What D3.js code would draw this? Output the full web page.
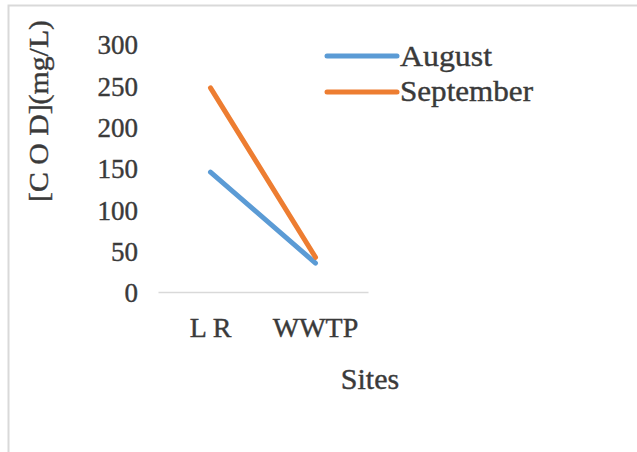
<!DOCTYPE html>
<html>
<head>
<meta charset="utf-8">
<script src="https://cdn.jsdelivr.net/npm/d3@7"></script>
<style>
  html, body { margin: 0; padding: 0; background: #fff; }
  svg { display: block; }
</style>
</head>
<body>
<svg id="chart" width="637" height="452"></svg>
<script>
const categories = ["L R", "WWTP"];
const seriesNames = ["August", "September"];
const august = [145, 35];
const september = [247, 42];
const yTicks = [0, 50, 100, 150, 200, 250, 300];
const colors = ["#5b9bd5", "#ed7d31"];

const FONT = "Liberation Serif";
const TXT = "#3a3a3a";
const svg = d3.select("#chart");

function styleText(sel, size) {
  sel.style("font-family", FONT)
     .style("font-size", size + "px")
     .style("fill", TXT)
     .style("stroke", TXT)
     .style("stroke-width", "0.4px");
}

// outer frame
svg.append("rect")
  .attr("x", 8.5).attr("y", 5.5)
  .attr("width", 700).attr("height", 500)
  .attr("fill", "none").attr("stroke", "#d9d9d9").attr("stroke-width", 2);

const x = d3.scaleBand().domain(categories).range([158, 368]);
const y = d3.scaleLinear().domain([0, 300]).range([292, 44]);

// category axis line
const xAxis = d3.axisBottom(x).tickSize(0).tickFormat("");
const gx = svg.append("g").attr("transform", `translate(0,${y(0)})`).call(xAxis);
gx.select(".domain").attr("stroke", "#d9d9d9").attr("stroke-width", 1.5);

// y tick labels
const yAxis = d3.axisLeft(y).tickValues(yTicks).tickSize(0).tickPadding(0);
const gy = svg.append("g").attr("transform", "translate(138,0)").call(yAxis);
gy.select(".domain").remove();
gy.selectAll("text").attr("dy", "0.36em").call(styleText, 27);

// category labels
svg.append("g").selectAll("text").data(categories).join("text")
  .attr("x", d => x(d) + x.bandwidth() / 2)
  .attr("y", 337)
  .attr("text-anchor", "middle")
  .text(d => d)
  .call(styleText, 28);

// x title
svg.append("text")
  .attr("x", 370).attr("y", 389)
  .attr("text-anchor", "middle")
  .text("Sites")
  .call(styleText, 30);

// y title
svg.append("text")
  .attr("transform", "translate(48,111) rotate(-90)")
  .attr("text-anchor", "middle")
  .attr("textLength", 182)
  .attr("lengthAdjust", "spacingAndGlyphs")
  .text("[C O D](mg/L)")
  .call(styleText, 28);

// lines
const series = [august, september];
const line = d3.line()
  .x((d, i) => x(categories[i]) + x.bandwidth() / 2)
  .y(d => y(d));

svg.append("g").selectAll("path").data(series).join("path")
  .attr("d", d => line(d))
  .attr("fill", "none")
  .attr("stroke", (d, i) => colors[i])
  .attr("stroke-width", 5)
  .attr("stroke-linecap", "round")
  .attr("stroke-linejoin", "round");

// legend
const legendY = [56, 92];
const legendBase = [66, 101];
const legendLen = [92, 133];
const lg = svg.append("g");
seriesNames.forEach((name, i) => {
  lg.append("line")
    .attr("x1", 327).attr("x2", 397)
    .attr("y1", legendY[i]).attr("y2", legendY[i])
    .attr("stroke", colors[i]).attr("stroke-width", 5)
    .attr("stroke-linecap", "round");
  lg.append("text")
    .attr("x", 400).attr("y", legendBase[i])
    .attr("textLength", legendLen[i])
    .attr("lengthAdjust", "spacingAndGlyphs")
    .text(name)
    .call(styleText, 30);
});
</script>
</body>
</html>
